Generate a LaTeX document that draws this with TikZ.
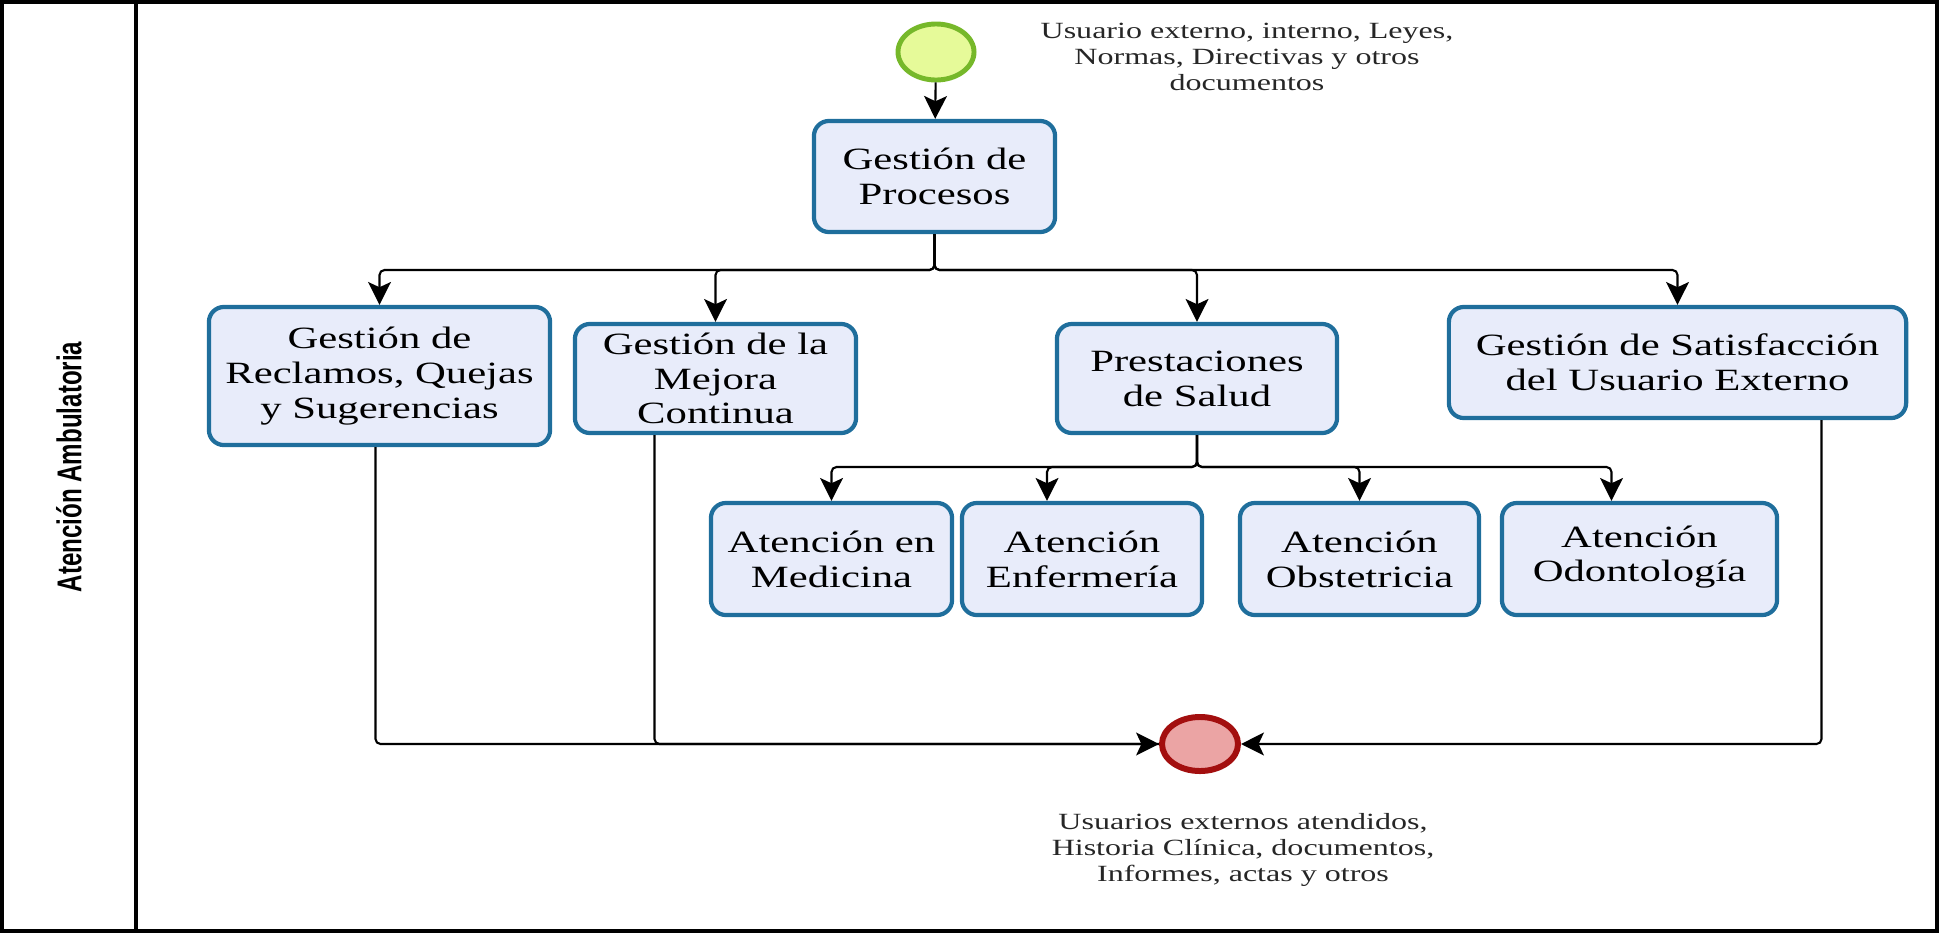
\documentclass[tikz,border=0pt]{standalone}
\usepackage{fontspec}
\setmainfont{Liberation Serif}[FakeStretch=1.38]
\newfontfamily\lanefont{Liberation Sans}[FakeStretch=0.7]
\usetikzlibrary{calc,arrows.meta,shapes.geometric}
\definecolor{boxfill}{HTML}{E8ECFA}
\definecolor{boxline}{HTML}{1F6E9C}
\definecolor{startfill}{HTML}{E6FA99}
\definecolor{startline}{HTML}{76B82A}
\definecolor{endfill}{HTML}{EBA4A4}
\definecolor{endline}{HTML}{A30F0F}
\newcommand{\thickness}{1.2pt}
\newcommand{\rowtwo}{559}

\begin{document}
\begin{tikzpicture}[x=0.01cm, y=-0.01cm,
  task/.style={draw=boxline, fill=boxfill, line width=\thickness, rounded corners=0.15cm,
    align=center, inner sep=0pt, font=\fontsize{8.8}{9.9}\selectfont},
  flow/.style={line width=0.6pt, rounded corners=0.05cm, -{Stealth[length=6.5pt,width=6.5pt,inset=1.5pt]}},
  link/.style={line width=0.6pt, rounded corners=0.05cm},
  note/.style={align=center, inner sep=0pt, text=black!85, font=\fontsize{6.6}{7.5}\selectfont}]
\useasboundingbox (0,0) rectangle (1939,933);
% lane
\draw[line width=0.9pt] (2,2) rectangle (1937,931);
\draw[line width=0.9pt] (136,2) -- (136,931);
\node[rotate=90, font=\lanefont\bfseries\fontsize{9.8}{11}\selectfont] (lane) at (69,467) {Atención Ambulatoria};
% events
\node[ellipse, draw=startline, fill=startfill, line width=1.4pt, minimum width=0.76cm, minimum height=0.56cm] (0) at (936,52) {};
\node[ellipse, draw=endline, fill=endfill, line width=1.7pt, minimum width=0.76cm, minimum height=0.54cm] (10) at (1200,744) {};
% tasks
\node[task, minimum width=2.41cm, minimum height=1.11cm] (1) at (934.5,176.5) {Gestión de\\Procesos};
\node[task, minimum width=3.41cm, minimum height=1.38cm] (2) at (379.5,376) {Gestión de\\Reclamos, Quejas\\y Sugerencias};
\node[task, minimum width=2.81cm, minimum height=1.09cm] (3) at (715.5,378.5) {Gestión de la\\Mejora\\Continua};
\node[task, minimum width=2.80cm, minimum height=1.09cm] (4) at (1197,378.5) {Prestaciones\\de Salud};
\node[task, minimum width=4.57cm, minimum height=1.11cm] (5) at (1677.5,362.5) {Gestión de Satisfacción\\del Usuario Externo};
\node[task, minimum width=2.41cm, minimum height=1.12cm] (6) at (831.5,\rowtwo) {Atención en\\Medicina};
\node[task, minimum width=2.40cm, minimum height=1.12cm] (7) at (1082,\rowtwo) {Atención\\Enfermería};
\node[task, minimum width=2.39cm, minimum height=1.12cm] (8) at (1359.5,\rowtwo) {Atención\\Obstetricia};
\node[task, minimum width=2.75cm, minimum height=1.12cm] (9) at (1639.5,\rowtwo) {Atención\\Odontología\strut};
% notes
\node[note] (11) at (1247,57) {Usuario externo, interno, Leyes,\\Normas, Directivas y otros\\documentos};
\node[note] (12) at (1243,850) {Usuarios externos atendidos,\\Historia Clínica, documentos,\\Informes, actas y otros};
% flows
\coordinate (b1) at (0,270);
\coordinate (b2) at (0,467);
\draw[flow] (0) -- (1);
\foreach \i in {2,3,4,5}
  \draw[flow] (1.south) -- (1.south |- b1) -| (\i.north);
\foreach \i/\dx in {6/0,7/-35,8/0,9/-28}
  \draw[flow] (4.south) -- (4.south |- b2) -| ($(\i.north)+(\dx,0)$);
\draw[link] ($(3.south)+(-61,0)$) |- (10.west);
\draw[flow] ($(2.south)+(-4,0)$) |- (10.west);
\draw[flow] ($(5.south)+(144,0)$) |- (10.east);
\end{tikzpicture}
\end{document}
